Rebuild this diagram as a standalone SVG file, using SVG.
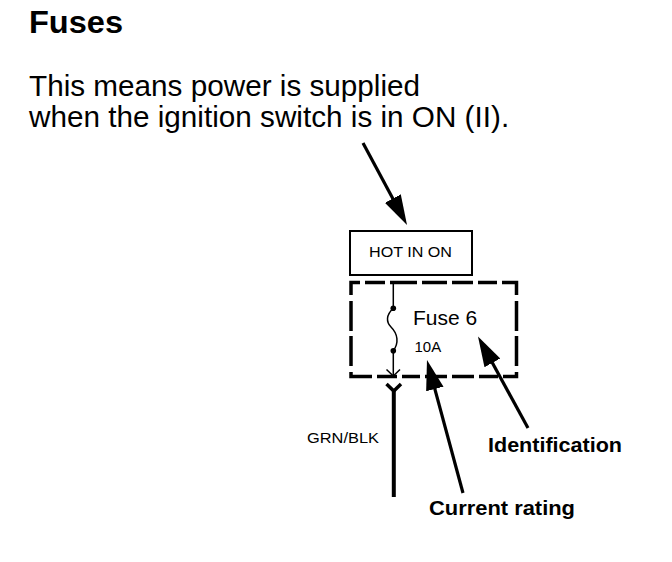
<svg xmlns="http://www.w3.org/2000/svg" width="672" height="562" viewBox="0 0 672 562">
<style>
text{font-family:"Liberation Sans",Arial,sans-serif;fill:#000}
.b{font-weight:bold}
.dash{fill:none;stroke:#000;stroke-width:3.5;stroke-linecap:butt}
.ptr{fill:none;stroke:#000;stroke-width:3.2}
.thin{fill:none;stroke:#000;stroke-width:1.5}
</style>
<defs>
<marker id="head" markerUnits="userSpaceOnUse" markerWidth="34" markerHeight="22" refX="20" refY="11" orient="auto" viewBox="0 0 34 22">
<path d="M0,2 L30,11 L0,20 z" fill="#000"/>
</marker>
</defs>
<rect width="672" height="562" fill="#fff"/>
<text class="b" x="29" y="33" font-size="32" textLength="94" lengthAdjust="spacingAndGlyphs">Fuses</text>
<text x="29" y="96" font-size="29.7">This means power is supplied</text>
<text x="29" y="127" font-size="29.7">when the ignition switch is in ON (II).</text>

<g id="hot-in-on">
<rect x="350" y="231" width="122" height="44" fill="#fff" stroke="#000" stroke-width="2"/>
<text x="369" y="256.5" font-size="15.4" textLength="83" lengthAdjust="spacingAndGlyphs">HOT IN ON</text>
</g>

<g id="fuse-6">
<path class="dash" d="M351,295 V282.5 H360 M365,282.5 H385 M390,282.5 H417 M422,282.5 H447 M452,282.5 H473 M478,282.5 H497 M502,282.5 H516.5 V295
M351,301 V331 M351,336 V366 M351,372 V376.5 H372 M377,376.5 H397 M402,376.5 H420 M425,376.5 H447 M452,376.5 H474 M479,376.5 H498 M503,376.5 H516.5 V372
M516.5,301 V331 M516.5,336 V366"/>
<path class="thin" d="M393.3,282.5 V308.3 C386,315 386,322 391,327 C398,334 399,343 393.3,350.7 V376"/>
<circle cx="393.3" cy="308.3" r="2.8"/>
<circle cx="393.3" cy="350.7" r="2.8"/>
<path class="thin" d="M386.5,369.5 L393.3,376 L400,369.5"/>
<text x="413" y="325" font-size="21">Fuse 6</text>
<text x="414.5" y="351.7" font-size="15">10A</text>
</g>

<g id="wire">
<path d="M386.5,384 L393.8,391 L401,384" fill="none" stroke="#000" stroke-width="3.5"/>
<line x1="393.8" y1="389" x2="393.8" y2="497" stroke="#000" stroke-width="4"/>
<text x="307" y="443" font-size="15" textLength="72" lengthAdjust="spacingAndGlyphs">GRN/BLK</text>
</g>

<g id="labels">
<text class="b" x="488" y="451.7" font-size="21" textLength="134" lengthAdjust="spacingAndGlyphs">Identification</text>
<text class="b" x="429" y="515" font-size="21" textLength="146" lengthAdjust="spacingAndGlyphs">Current rating</text>
</g>

<g id="connectors">
<line class="ptr" x1="363" y1="143" x2="402.3" y2="216.2" marker-end="url(#head)"/>
<line class="ptr" x1="463" y1="493" x2="429.6" y2="369.7" marker-end="url(#head)"/>
<line class="ptr" x1="528" y1="428" x2="482.8" y2="345.3" marker-end="url(#head)"/>
</g>
</svg>
